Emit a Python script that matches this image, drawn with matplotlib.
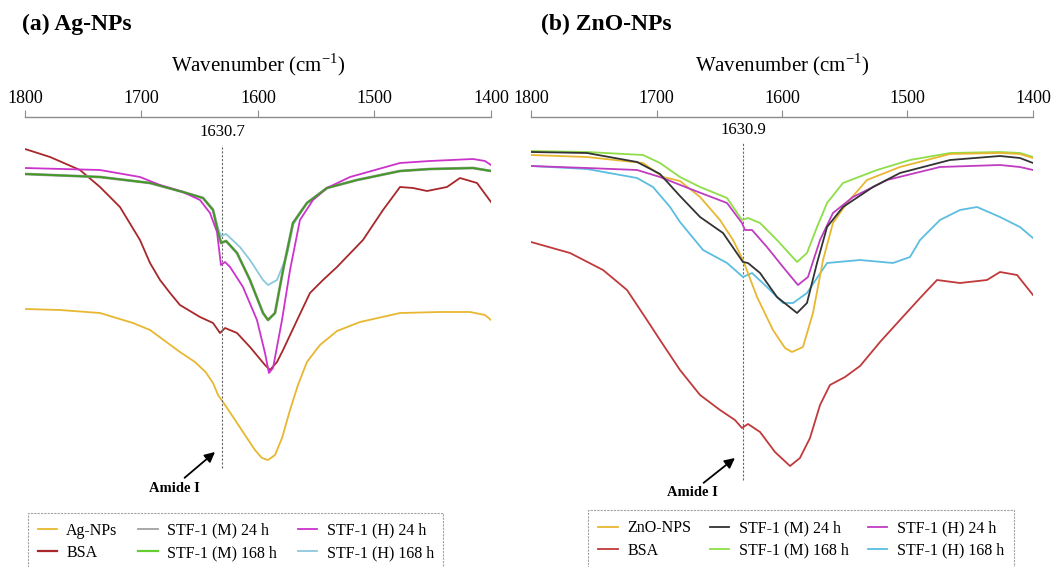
"""
ftir_amide.py

FTIR spectra (1800-1400 cm-1) of BSA with Ag-NPs and ZnO-NPs.
"""
import matplotlib
matplotlib.use("Agg")
from matplotlib import pyplot as plt

plt.rcParams["font.family"] = "Liberation Serif"
plt.rcParams["mathtext.fontset"] = "custom"
plt.rcParams["mathtext.rm"] = "Liberation Serif"

# ---------------- (a) Ag-NPs : transmittance, arbitrary offset units ----------------
ag_np_wn = [1800, 1770, 1735.6, 1707.3, 1692.7, 1679.8, 1667, 1654.1, 1645, 1638.6, 1634.3,
            1628.3, 1619.7, 1611.2, 1602.6, 1596.6, 1591.4, 1585.4, 1579.4, 1572.5, 1565.7,
            1558, 1546.8, 1532.2, 1512.4, 1478.1, 1443.8, 1418, 1405.2, 1400]
ag_np_t = [191, 190, 187, 177, 170, 159, 148, 138, 128, 117, 105,
           95, 80, 65, 50, 42, 40, 45, 62, 90, 115,
           138, 155, 169, 178, 187, 188, 188, 185, 180]

bsa_a_wn = [1800, 1778.5, 1752.8, 1735.6, 1718.5, 1701.3, 1692.7, 1684.1, 1675.5, 1667,
            1649.8, 1638.6, 1632.6, 1628.3, 1618, 1606.9, 1594, 1589.7, 1583.7, 1578.5,
            1566.4, 1555.4, 1544.2, 1532.2, 1509.9, 1492.7, 1478.1, 1466.9, 1454.9, 1437.8,
            1426.6, 1412, 1400]
bsa_a_t = [351, 343, 330, 313, 293, 260, 237, 220, 207, 195,
           183, 177, 167, 172, 167, 153, 135, 130, 138, 150,
           180, 207, 220, 233, 260, 290, 313, 312, 309, 313,
           322, 317, 298]

m24_a_wn = [1800, 1735.6, 1692.7, 1664.4, 1647.2, 1638.6, 1634.3, 1631.7, 1627.4, 1618,
            1606.9, 1595.7, 1591.4, 1585.4, 1578.5, 1570, 1558, 1540.8, 1515, 1478.1,
            1452.4, 1415.5, 1400]
m24_a_t = [326, 323, 317, 308, 302, 290, 268, 257, 259, 247,
           220, 187, 180, 187, 230, 277, 297, 312, 320, 329,
           331, 332, 329]

m168_a_wn = [1800, 1735.6, 1692.7, 1664.4, 1647.2, 1638.6, 1634.3, 1631.7, 1627.4, 1618,
             1606.9, 1595.7, 1591.4, 1585.4, 1578.5, 1570, 1558, 1540.8, 1515, 1478.1,
             1452.4, 1415.5, 1400]
m168_a_t = [326, 323, 317, 308, 302, 290, 268, 257, 259, 247,
            220, 187, 180, 187, 230, 277, 297, 312, 320, 329,
            331, 332, 329]

h24_a_wn = [1800, 1735.6, 1701.3, 1684.1, 1664.4, 1649.8, 1641.2, 1635.2, 1631.8, 1628.3,
            1624, 1612.9, 1600.9, 1594, 1590.6, 1587.1, 1579.4, 1572.5, 1564, 1552.8,
            1540.8, 1521, 1478.1, 1452.4, 1415.5, 1405.2, 1400]
h24_a_t = [332, 330, 323, 315, 308, 300, 287, 268, 235, 238,
           233, 213, 180, 147, 127, 132, 180, 230, 280, 300,
           312, 323, 337, 339, 341, 339, 335]

h168_a_wn = [1800, 1735.6, 1692.7, 1664.4, 1647.2, 1638.6, 1634.3, 1631.7, 1627.4, 1615.5,
             1606.9, 1595.7, 1591.4, 1583.7, 1576.8, 1574.2, 1570, 1558, 1540.8, 1515,
             1478.1, 1452.4, 1415.5, 1400]
h168_a_t = [326, 323, 317, 308, 302, 291, 272, 264, 266, 253,
            240, 220, 215, 220, 240, 250, 275, 297, 312, 320,
            329, 331, 332, 329]

# ---------------- (b) ZnO-NPs ----------------
zno_np_wn = [1800, 1755.4, 1710.8, 1694.8, 1681.3, 1665.3, 1649.4, 1639, 1631.1, 1619.9,
             1607.2, 1597.6, 1592, 1583.3, 1575.3, 1567.3, 1559.4, 1548.2, 1532.3, 1506,
             1466.1, 1426.3, 1410.4, 1400]
zno_np_t = [345, 343, 337, 323, 319, 303, 280, 260, 240, 203,
            170, 152, 148, 153, 187, 240, 277, 297, 320, 333,
            346, 347, 346, 342]

bsa_b_wn = [1800, 1768.9, 1742.6, 1723.5, 1707.6, 1697.2, 1681.3, 1665.3, 1649.4, 1637.5,
            1631.9, 1627.1, 1617.5, 1605.6, 1593.6, 1585.7, 1577.7, 1569.7, 1561.8, 1549.8,
            1537.8, 1521.9, 1506, 1490, 1476.5, 1458.2, 1436.7, 1426.3, 1412.7, 1400]
bsa_b_t = [258, 247, 230, 210, 180, 160, 130, 105, 90, 80,
           72, 76, 68, 48, 34, 42, 62, 95, 115, 123,
           134, 158, 180, 202, 220, 217, 220, 228, 225, 205]

m24_b_wn = [1800, 1755.4, 1715.5, 1697.2, 1681.3, 1665.3, 1647, 1631.1, 1627.1, 1617.5,
            1604, 1588, 1580.1, 1572.1, 1564.1, 1551.4, 1527.5, 1506, 1466.1, 1426.3,
            1410.4, 1400]
m24_b_t = [348, 347, 338, 326, 304, 283, 267, 238, 237, 227,
           203, 187, 197, 237, 273, 293, 313, 327, 340, 344,
           342, 337]

m168_b_wn = [1800, 1755.4, 1710.8, 1697.2, 1681.3, 1665.3, 1643.8, 1631.9, 1627.1, 1617.5,
             1604, 1588, 1580.1, 1572.1, 1564.1, 1551.4, 1524.3, 1498, 1466.1, 1426.3,
             1410.4, 1400]
m168_b_t = [349, 348, 345, 337, 323, 313, 302, 280, 282, 277,
            260, 238, 247, 273, 297, 317, 330, 340, 347, 348,
            347, 343]

h24_b_wn = [1800, 1755.4, 1715.5, 1697.2, 1670.9, 1643.8, 1631.9, 1629.5, 1623.9, 1612,
            1599.2, 1587.3, 1579.3, 1569.7, 1559.4, 1543.4, 1516.3, 1474.1, 1426.3, 1410.4,
            1400]
h24_b_t = [334, 332, 330, 323, 310, 297, 277, 270, 270, 253,
           233, 215, 223, 260, 287, 303, 320, 333, 335, 333,
           330]

h168_b_wn = [1800, 1755.4, 1715.5, 1702.8, 1689.2, 1681.3, 1662.9, 1643.8, 1631.1, 1623.9,
             1612, 1599.2, 1591.2, 1580.1, 1564.1, 1537.8, 1511.6, 1498, 1490, 1474.1,
             1458.2, 1444.6, 1426.3, 1410.4, 1400]
h168_b_t = [334, 331, 322, 313, 293, 278, 250, 237, 223, 227,
            213, 197, 197, 207, 237, 240, 237, 243, 260, 280,
            290, 293, 283, 273, 262]

# amide I band positions
amide_a = 1630.7
amide_b = 1630.9

x_ticks = [1800, 1700, 1600, 1500, 1400]

YELLOW = "#e8b732"
GREY = "#a0a0a0"
Y_TOP = 383  # transmittance units shown between bottom of plot and the top axis


def style_axis(ax):
    """Top-only wavenumber axis, no y axis."""
    ax.set_xlim(1800, 1400)
    ax.set_ylim(0, Y_TOP)
    for side in ["left", "right", "bottom"]:
        ax.spines[side].set_visible(False)
    ax.spines["top"].set_color("#8c8c8c")
    ax.spines["top"].set_linewidth(1.0)
    ax.xaxis.tick_top()
    ax.xaxis.set_label_position("top")
    ax.set_xticks(x_ticks)
    ax.tick_params(axis="x", direction="out", length=5, color="#8c8c8c",
                   labelsize=13, pad=2)
    ax.set_yticks([])
    ax.set_xlabel(r"Wavenumber (cm$^{\mathregular{-1}}$)", fontsize=15, labelpad=14)
    ax.patch.set_visible(False)


def amide_marker(ax, wn, y_top, y_bottom, arrow_head, text_pos):
    ax.vlines(wn, y_bottom, y_top, colors="#666666", linestyles=(0, (2, 1.5)), lw=0.8)
    ax.text(wn, y_top + 5, f"{wn:.1f}", ha="center", va="bottom", fontsize=12)
    ax.annotate("Amide I", xy=arrow_head, xytext=text_pos,
                ha="center", va="center", fontsize=10.5, fontweight="bold",
                arrowprops=dict(arrowstyle="-|>", color="black", lw=1.3,
                                mutation_scale=15, shrinkA=1, shrinkB=0,
                                relpos=(0.62, 1.0)))


def legend_box(ax, handles, labels, anchor, colspace, pad):
    leg = ax.legend(handles, labels, loc="upper left", bbox_to_anchor=anchor,
                    bbox_transform=fig.transFigure, borderaxespad=0,
                    ncol=3, fontsize=11.5, handlelength=1.2, handletextpad=0.6,
                    columnspacing=colspace, labelspacing=0.4, borderpad=pad,
                    fancybox=False, frameon=True)
    frame = leg.get_frame()
    frame.set_edgecolor("#8c8c8c")
    frame.set_linewidth(0.8)
    frame.set_linestyle((0, (2, 1)))
    return leg


fig = plt.figure(figsize=(10.53, 5.67), dpi=100)
lw = 1.3

# ---------------- panel (a) ----------------
ax_a = fig.add_axes([25 / 1053, 67 / 567, 466 / 1053, Y_TOP / 567])
style_axis(ax_a)
ax_a.plot(bsa_a_wn, bsa_a_t, color="#a8282a", lw=lw, zorder=2)
ax_a.plot(ag_np_wn, ag_np_t, color=YELLOW, lw=lw, zorder=2)
ax_a.plot(h168_a_wn, h168_a_t, color="#8cc8dc", lw=lw, zorder=3)
ax_a.plot(m24_a_wn, m24_a_t, color=GREY, lw=2.0, zorder=3)
ax_a.plot(h24_a_wn, h24_a_t, color="#cc33cc", lw=lw, zorder=4)
ax_a.plot(m168_a_wn, m168_a_t, color="#3f9a22", lw=lw, zorder=5)
amide_marker(ax_a, amide_a, 355, 32, (1636.9, 48), (1672, 12))

handles_a = [
    plt.Line2D([], [], color=YELLOW, lw=1.3),
    plt.Line2D([], [], color="#a8282a", lw=1.6),
    plt.Line2D([], [], color=GREY, lw=1.3),
    plt.Line2D([], [], color="#66cc33", lw=1.6),
    plt.Line2D([], [], color="#cc33cc", lw=1.3),
    plt.Line2D([], [], color="#8cc8dc", lw=1.3),
]
labels_a = ["Ag-NPs", "BSA", "STF-1 (M) 24 h", "STF-1 (M) 168 h",
            "STF-1 (H) 24 h", "STF-1 (H) 168 h"]
legend_box(ax_a, handles_a, labels_a, (28 / 1053, 1 - 513 / 567), 1.3, 0.6)

# ---------------- panel (b) ----------------
ax_b = fig.add_axes([531 / 1053, 67 / 567, 502 / 1053, Y_TOP / 567])
style_axis(ax_b)
ax_b.plot(bsa_b_wn, bsa_b_t, color="#c0393b", lw=lw, zorder=2)
ax_b.plot(h168_b_wn, h168_b_t, color="#5bbde0", lw=lw, zorder=3)
ax_b.plot(zno_np_wn, zno_np_t, color=YELLOW, lw=lw, zorder=4)
ax_b.plot(m24_b_wn, m24_b_t, color="#333333", lw=lw, zorder=5)
ax_b.plot(h24_b_wn, h24_b_t, color="#c03cc0", lw=lw, zorder=4)
ax_b.plot(m168_b_wn, m168_b_t, color="#8ede48", lw=lw, zorder=3)
amide_marker(ax_b, amide_b, 357, 20, (1637.5, 42), (1671, 7))

handles_b = [
    plt.Line2D([], [], color=YELLOW, lw=1.3),
    plt.Line2D([], [], color="#c0393b", lw=1.3),
    plt.Line2D([], [], color="#333333", lw=1.3),
    plt.Line2D([], [], color="#8ede48", lw=1.3),
    plt.Line2D([], [], color="#c03cc0", lw=1.3),
    plt.Line2D([], [], color="#5bbde0", lw=1.3),
]
labels_b = ["ZnO-NPS", "BSA", "STF-1 (M) 24 h", "STF-1 (M) 168 h",
            "STF-1 (H) 24 h", "STF-1 (H) 168 h"]
legend_box(ax_b, handles_b, labels_b, (588 / 1053, 1 - 510 / 567), 1.2, 0.65)

# panel titles
fig.text(22 / 1053, 1 - 24 / 567, "(a) Ag-NPs", fontsize=17, fontweight="bold", va="center")
fig.text(541 / 1053, 1 - 24 / 567, "(b) ZnO-NPs", fontsize=17, fontweight="bold", va="center")

fig.savefig("out.png", dpi=100, facecolor="white")
